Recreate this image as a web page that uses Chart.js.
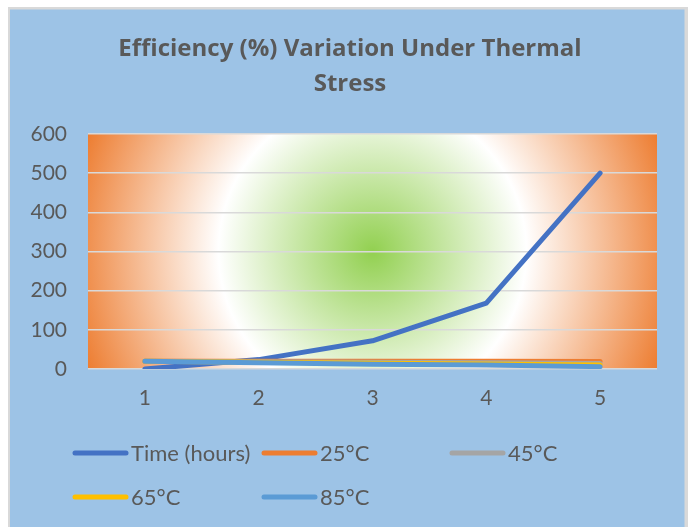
<!DOCTYPE html>
<html>
<head>
<meta charset="utf-8">
<script src="https://cdn.jsdelivr.net/npm/chart.js@4/dist/chart.umd.min.js"></script>
<style>
  html, body { margin: 0; padding: 0; background: #ffffff; }
  #wrap { width: 690px; height: 527px; }
</style>
</head>
<body>
<div id="wrap"><canvas id="c" width="690" height="527"></canvas></div>
<script>
// ---- data ----
const categories = ['1', '2', '3', '4', '5'];
const seriesNames = ['Time (hours)', '25°C', '45°C', '65°C', '85°C'];
const timeHours = [0, 24, 72, 168, 500];
const eff25 = [20, 20, 20, 20, 19];
const eff45 = [19.5, 18.5, 17.5, 16, 14];
const eff65 = [19.5, 17.5, 15, 13, 10];
const eff85 = [19.5, 16, 12, 10.5, 6];
const yMin = 0, yMax = 600, yStep = 100;
const titleLines = ['Efficiency (%) Variation Under Thermal', 'Stress'];

const colors = ['#4472C4', '#ED7D31', '#A5A5A5', '#FFC000', '#5B9BD5'];
const seriesValues = [timeHours, eff25, eff45, eff65, eff85];
const TEXT = '#595959';
const FONT = 'Lato, "Open Sans", sans-serif';

const bgPlugin = {
  id: 'bg',
  beforeDraw(chart) {
    const ctx = chart.ctx;
    const W = chart.width, H = chart.height;
    ctx.save();
    ctx.fillStyle = '#ffffff';
    ctx.fillRect(0, 0, W, H);
    ctx.fillStyle = '#D9D9D9';
    ctx.fillRect(8, 7, 680, H - 7);
    ctx.fillStyle = '#9DC3E6';
    ctx.fillRect(10, 9.5, 674.5, H - 9.5);
    const a = chart.chartArea;
    const cx = (a.left + a.right) / 2, cy = (a.top + a.bottom) / 2;
    const r = Math.hypot(a.right - cx, a.bottom - cy);
    const g = ctx.createRadialGradient(cx, cy, 0, cx, cy, r);
    g.addColorStop(0, '#92D050');
    g.addColorStop(0.5, '#FFFFFF');
    g.addColorStop(1, '#ED7D31');
    ctx.fillStyle = g;
    ctx.fillRect(a.left, a.top, a.right - a.left, a.bottom - a.top);
    // title
    ctx.fillStyle = TEXT;
    ctx.font = 'bold 24px "Open Sans", Lato, sans-serif';
    ctx.textAlign = 'center';
    ctx.textBaseline = 'middle';
    ctx.fillText(titleLines[0], 350, 49);
    ctx.fillText(titleLines[1], 350, 84);
    ctx.restore();
  },
  afterDraw(chart) {
    const ctx = chart.ctx;
    ctx.save();
    const cols = [73, 262, 450];
    const rows = [453, 497];
    ctx.font = '22px ' + FONT;
    ctx.textBaseline = 'middle';
    ctx.textAlign = 'left';
    chart.data.datasets.forEach((ds, i) => {
      const x = cols[i % 3], y = rows[Math.floor(i / 3)];
      ctx.strokeStyle = ds.borderColor;
      ctx.lineWidth = 5;
      ctx.lineCap = 'round';
      ctx.beginPath();
      ctx.moveTo(x + 2, y);
      ctx.lineTo(x + 53, y);
      ctx.stroke();
      ctx.fillStyle = TEXT;
      ctx.fillText(ds.label, x + 58, y + 1);
    });
    ctx.restore();
  }
};

new Chart(document.getElementById('c'), {
  type: 'line',
  data: {
    labels: categories,
    datasets: seriesNames.map((name, i) => ({
      label: name,
      data: seriesValues[i],
      order: seriesNames.length - i,
      borderColor: colors[i],
      backgroundColor: colors[i],
      borderWidth: 5,
      borderCapStyle: 'round',
      borderJoinStyle: 'round',
      pointRadius: 0,
      pointHoverRadius: 0,
      tension: 0,
      fill: false
    }))
  },
  options: {
    responsive: false,
    animation: false,
    devicePixelRatio: 1,
    layout: { padding: { top: 134, right: 33, bottom: 108, left: 0 } },
    plugins: {
      legend: { display: false },
      title: { display: false },
      tooltip: { enabled: false }
    },
    scales: {
      x: {
        offset: true,
        grid: { display: false, drawTicks: false },
        border: { display: false },
        ticks: { color: TEXT, font: { family: FONT, size: 21 }, padding: 17 },
        afterFit(s) { s.height = 50; }
      },
      y: {
        min: yMin, max: yMax,
        ticks: { stepSize: yStep, color: TEXT, font: { family: FONT, size: 21 }, padding: 21 },
        grid: { color: '#D9D9D9', lineWidth: 1.6, drawTicks: false },
        border: { display: false },
        afterFit(s) { s.width = 88; }
      }
    }
  },
  plugins: [bgPlugin]
});
</script>
</body>
</html>
